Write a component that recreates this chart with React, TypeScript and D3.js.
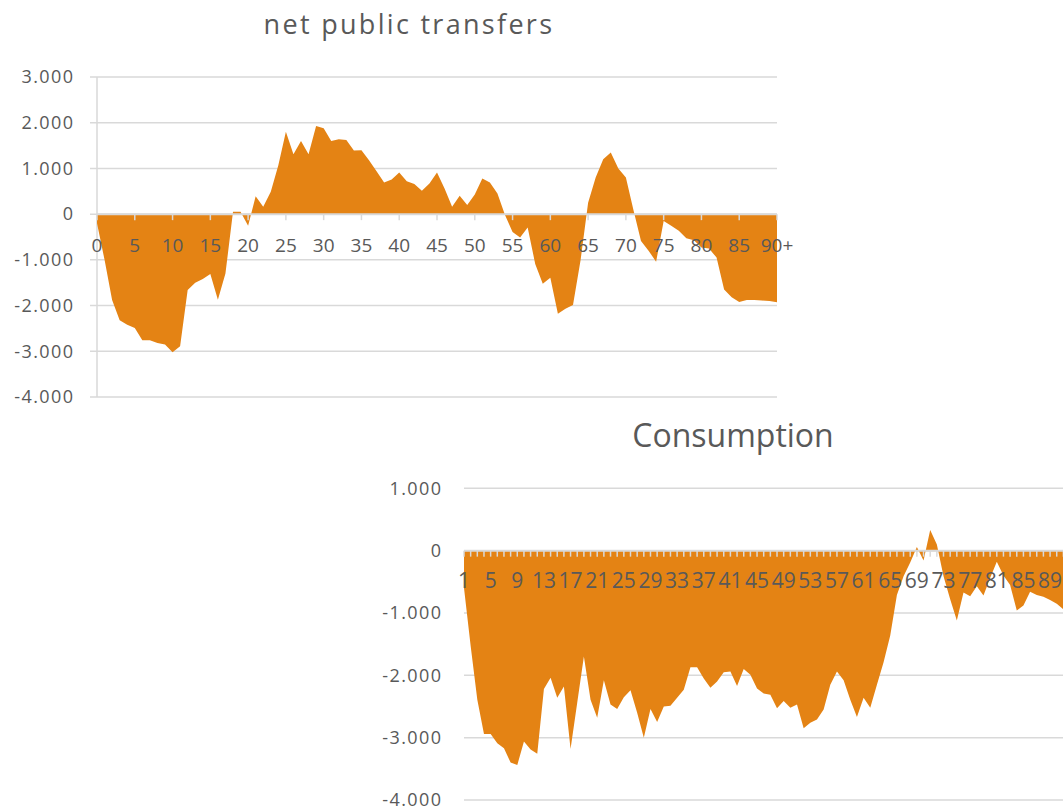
import React from "react";
import * as d3 from "d3";

// age categories for the top chart (0 .. 89, then "90+")
const ages: string[] = Array.from({ length: 90 }, (_, i) => String(i)).concat(["90+"]);

// net public transfers by age
const netTransfers: number[] = [
  -200, -1000, -1880, -2320, -2420, -2490, -2760, -2760, -2820, -2850,
  -3020, -2890, -1660, -1500, -1420, -1310, -1870, -1300, 50, 50,
  -255, 390, 160, 490, 1070, 1800, 1310, 1600, 1310, 1930,
  1880, 1600, 1640, 1620, 1390, 1400, 1180, 940, 690, 760,
  910, 720, 660, 510, 670, 910, 560, 160, 400, 200,
  430, 780, 690, 450, -20, -390, -510, -290, -1090, -1520,
  -1390, -2180, -2070, -1990, -1010, 250, 800, 1200, 1350, 1000,
  800, 90, -590, -800, -1040, -150, -255, -365, -530, -570,
  -730, -750, -950, -1650, -1820, -1920, -1880, -1880, -1890, -1900, -1930,
];

// consumption categories 1 .. 91
const consCats: string[] = Array.from({ length: 91 }, (_, i) => String(i + 1));

const consumption: number[] = [
  -600, -1530, -2390, -2940, -2940, -3090, -3170, -3400, -3440, -3060,
  -3190, -3260, -2220, -2040, -2360, -2180, -3180, -2440, -1700, -2390,
  -2680, -2080, -2470, -2540, -2350, -2240, -2600, -3000, -2540, -2750,
  -2500, -2490, -2360, -2230, -1870, -1870, -2050, -2200, -2100, -1950,
  -1940, -2170, -1900, -1990, -2210, -2290, -2310, -2530, -2410, -2520,
  -2470, -2850, -2760, -2710, -2550, -2150, -1940, -2080, -2390, -2670,
  -2360, -2520, -2150, -1790, -1360, -710, -410, -190, 60, -160,
  330, 100, -410, -780, -1120, -670, -730, -570, -720, -440,
  -180, -400, -550, -960, -880, -660, -710, -740, -790, -850, -940,
];

const topTicks = [-4000, -3000, -2000, -1000, 0, 1000, 2000, 3000];
const bottomTicks = [-4000, -3000, -2000, -1000, 0, 1000];

const ORANGE = "#E48314";
const GRID = "#d9d9d9";
const TEXT = "#595959";
const FONT = "'Open Sans', sans-serif";

// excel-style thousands with a dot and a plain hyphen
const fmt = (v: number) =>
  v === 0 ? "0" : d3.format(",")(v).replace(/,/g, ".").replace("\u2212", "-");

type PanelProps = {
  title: string;
  titleX: number;
  titleY: number;
  titleSize: number;
  titleSpacing: number;
  cats: string[];
  values: number[];
  yTicks: number[];
  xRange: [number, number];
  yRange: [number, number];
  labelEvery: number;
  tickEvery: number;
  labelRight: number;
  xLabelY: number;
  xLabelSize: number;
  showYAxis: boolean;
};

const Panel = (p: PanelProps) => {
  const x = d3.scaleLinear().domain([0, p.cats.length - 1]).range(p.xRange);
  const y = d3
    .scaleLinear()
    .domain([d3.min(p.yTicks)!, d3.max(p.yTicks)!])
    .range(p.yRange);

  const area = d3
    .area<number>()
    .x((_, i) => x(i))
    .y0(y(0))
    .y1((d) => y(d));

  const gridLeft = p.showYAxis ? p.xRange[0] - 7 : p.xRange[0];
  const idx = d3.range(p.cats.length);

  return (
    <g>
      <text
        x={p.titleX}
        y={p.titleY}
        textAnchor="middle"
        fontSize={p.titleSize}
        letterSpacing={p.titleSpacing}
        fill={TEXT}
        fontFamily={FONT}
      >
        {p.title}
      </text>
      {p.yTicks.map((t) => (
        <g key={t}>
          <line x1={gridLeft} x2={p.xRange[1]} y1={y(t)} y2={y(t)} stroke={GRID} strokeWidth={1.5} />
          <text
            x={p.labelRight + 1.4}
            y={y(t)}
            dy="0.35em"
            textAnchor="end"
            fontSize={18}
            letterSpacing={1.4}
            fill={TEXT}
            fontFamily={FONT}
          >
            {fmt(t)}
          </text>
        </g>
      ))}
      {p.showYAxis && (
        <line x1={p.xRange[0]} x2={p.xRange[0]} y1={p.yRange[1]} y2={p.yRange[0]} stroke={GRID} strokeWidth={1.5} />
      )}
      <path d={area(p.values) || ""} fill={ORANGE} />
      <line x1={p.xRange[0]} x2={p.xRange[1]} y1={y(0)} y2={y(0)} stroke={GRID} strokeWidth={2} />
      {idx
        .filter((i) => i % p.tickEvery === 0)
        .map((i) => (
          <line key={i} x1={x(i)} x2={x(i)} y1={y(0)} y2={y(0) + 6} stroke={GRID} strokeWidth={1.5} />
        ))}
      {idx
        .filter((i) => i % p.labelEvery === 0)
        .map((i) => (
          <text
            key={i}
            x={x(i)}
            y={p.xLabelY}
            dy="0.35em"
            textAnchor="middle"
            fontSize={p.xLabelSize}
            fill={TEXT}
            fontFamily={FONT}
          >
            {p.cats[i]}
          </text>
        ))}
    </g>
  );
};

export default function App() {
  return (
    <svg
      width={1063}
      height={811}
      style={{ position: "absolute", left: 0, top: 0, background: "#fff" }}
    >
      <Panel
        title="net public transfers"
        titleX={409}
        titleY={34}
        titleSize={27}
        titleSpacing={2.3}
        cats={ages}
        values={netTransfers}
        yTicks={topTicks}
        xRange={[97, 777]}
        yRange={[397, 77]}
        labelEvery={5}
        tickEvery={5}
        labelRight={73}
        xLabelY={245}
        xLabelSize={19}
        showYAxis={true}
      />
      <Panel
        title="Consumption"
        titleX={733}
        titleY={447}
        titleSize={32}
        titleSpacing={0}
        cats={consCats}
        values={consumption}
        yTicks={bottomTicks}
        xRange={[464, 1063.4]}
        yRange={[800, 488.3]}
        labelEvery={4}
        tickEvery={1}
        labelRight={441}
        xLabelY={581}
        xLabelSize={21}
        showYAxis={false}
      />
    </svg>
  );
}
